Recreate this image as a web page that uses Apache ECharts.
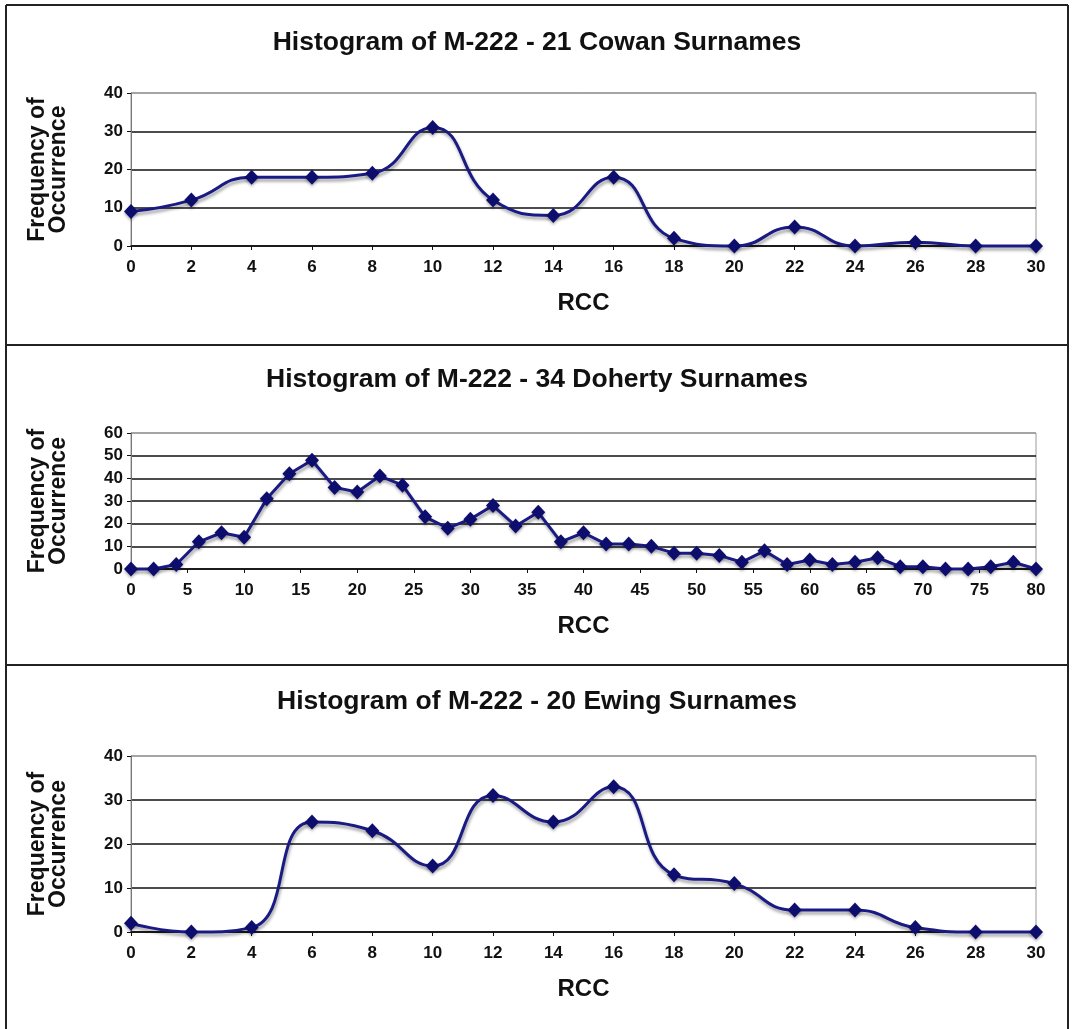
<!DOCTYPE html>
<html>
<head>
<meta charset="utf-8">
<script src="https://cdn.jsdelivr.net/npm/echarts@6/dist/echarts.min.js"></script>
<style>
html,body{margin:0;padding:0;background:#fff;}
#c{width:1074px;height:1029px;}
</style>
</head>
<body>
<div id="c"></div>
<script>
// ---- data ----
var cowanTitle = 'Histogram of M-222 - 21 Cowan Surnames';
var cowanRcc  = [0,2,4,6,8,10,12,14,16,18,20,22,24,26,28,30];
var cowanFreq = [9,12,18,18,19,31,12,8,18,2,0,5,0,1,0,0];

var dohertyTitle = 'Histogram of M-222 - 34 Doherty Surnames';
var dohertyRcc  = [0,2,4,6,8,10,12,14,16,18,20,22,24,26,28,30,32,34,36,38,40,42,44,46,48,50,52,54,56,58,60,62,64,66,68,70,72,74,76,78,80];
var dohertyFreq = [0,0,2,12,16,14,31,42,48,36,34,41,37,23,18,22,28,19,25,12,16,11,11,10,7,7,6,3,8,2,4,2,3,5,1,1,0,0,1,3,0];

var ewingTitle = 'Histogram of M-222 - 20 Ewing Surnames';
var ewingRcc  = [0,2,4,6,8,10,12,14,16,18,20,22,24,26,28,30];
var ewingFreq = [2,0,1,25,23,15,31,25,33,13,11,5,5,1,0,0];

var xAxisName = 'RCC';
var yAxisName = 'Frequency of\nOccurrence';

function pairs(xs, ys){ return xs.map(function(x,i){ return [x, ys[i]]; }); }

var FONT = '"Liberation Sans", Arial, sans-serif';
var panels = [
  {title: cowanTitle, titleTop: 24, top: 93, height: 153, xmax: 30, xint: 2, ymax: 40, data: pairs(cowanRcc, cowanFreq), smooth: true},
  {title: dohertyTitle, titleTop: 361, top: 433, height: 136, xmax: 80, xint: 5, ymax: 60, data: pairs(dohertyRcc, dohertyFreq), smooth: false},
  {title: ewingTitle, titleTop: 683, top: 756, height: 176, xmax: 30, xint: 2, ymax: 40, data: pairs(ewingRcc, ewingFreq), smooth: true}
];

var option = {
  backgroundColor: '#fff',
  animation: false,
  title: [], grid: [], xAxis: [], yAxis: [], series: [],
  graphic: [
    {type:'line', shape:{x1:6,y1:5,x2:1068,y2:5}, style:{stroke:'#222', lineWidth:2}},
    {type:'line', shape:{x1:6,y1:5,x2:6,y2:1029}, style:{stroke:'#222', lineWidth:2}},
    {type:'line', shape:{x1:1068,y1:5,x2:1068,y2:1029}, style:{stroke:'#222', lineWidth:2}},
    {type:'line', shape:{x1:6,y1:345,x2:1068,y2:345}, style:{stroke:'#222', lineWidth:2}},
    {type:'line', shape:{x1:6,y1:665,x2:1068,y2:665}, style:{stroke:'#222', lineWidth:2}}
  ]
};

panels.forEach(function(p, i){
  option.title.push({
    text: p.title, left: 'center', top: p.titleTop,
    textStyle: {fontFamily: FONT, fontWeight: 'bold', fontSize: 26.5, color: '#111'}
  });
  option.grid.push({left: 131, right: 38, top: p.top, height: p.height, show: true, borderColor: '#999', borderWidth: 1, containLabel: false});
  var nLines = p.ymax / 10 + 1;
  var cols = [];
  for (var k = 0; k < nLines; k++) cols.push(k === nLines - 1 ? '#999' : '#111');
  option.xAxis.push({
    type: 'value', gridIndex: i, min: 0, max: p.xmax, interval: p.xint,
    name: xAxisName, nameLocation: 'middle', nameGap: 45,
    nameTextStyle: {fontFamily: FONT, fontWeight: 'bold', fontSize: 24, color: '#111'},
    axisLine: {show: true, lineStyle: {color: '#111', width: 1.5}},
    axisTick: {show: true, length: 4, lineStyle: {color: '#111'}},
    axisLabel: {fontFamily: FONT, fontWeight: 'bold', fontSize: 17, color: '#111', margin: 13},
    splitLine: {show: false}
  });
  option.yAxis.push({
    type: 'value', gridIndex: i, min: 0, max: p.ymax, interval: 10,
    name: yAxisName, nameLocation: 'middle', nameGap: 62, nameRotate: 90,
    nameTextStyle: {fontFamily: FONT, fontWeight: 'bold', fontSize: 23, color: '#111', lineHeight: 21},
    axisLine: {show: true, lineStyle: {color: '#777', width: 1}},
    axisTick: {show: true, length: 4, lineStyle: {color: '#111'}},
    axisLabel: {fontFamily: FONT, fontWeight: 'bold', fontSize: 17, color: '#111', margin: 8},
    splitLine: {show: true, lineStyle: {color: cols, width: 1.5}}
  });
  option.series.push({
    type: 'line', xAxisIndex: i, yAxisIndex: i, data: p.data,
    smooth: p.smooth ? 0.5 : false,
    symbol: 'diamond', symbolSize: [14, 15],
    lineStyle: {color: '#1a1a84', width: 3, shadowColor: 'rgba(0,0,0,0.35)', shadowBlur: 3, shadowOffsetX: 1, shadowOffsetY: 3},
    itemStyle: {color: '#0d0d6e', borderWidth: 0, shadowColor: 'rgba(0,0,0,0.3)', shadowBlur: 3, shadowOffsetY: 2},
    clip: false
  });
});

var chart = echarts.init(document.getElementById('c'), null, {renderer: 'canvas'});
chart.setOption(option);
</script>
</body>
</html>
